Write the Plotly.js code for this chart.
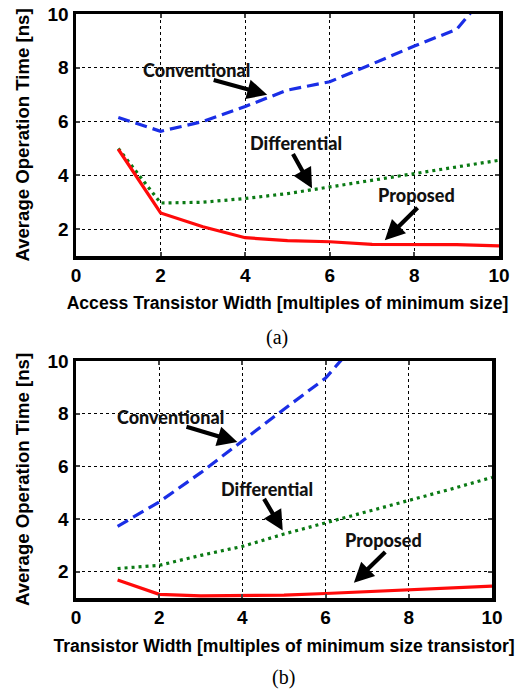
<!DOCTYPE html>
<html><head><meta charset="utf-8">
<script src="https://cdn.plot.ly/plotly-3.0.1.min.js"></script>
<style>html,body{margin:0;padding:0;background:#fff}#c{width:518px;height:691px}</style>
</head><body><div id="c"></div>
<script>
// ---- Data ----
const widthA = [1,2,3,4,5,6,7,8,9,10];
const conventionalA = [6.15,5.64,6.0,6.56,7.17,7.48,8.14,8.81,9.43,11.3];
const differentialA = [5.0,2.97,3.0,3.14,3.32,3.57,3.81,4.06,4.31,4.56];
const proposedA = [4.97,2.6,2.09,1.68,1.57,1.53,1.43,1.43,1.42,1.38];

const widthB = [1,2,3,4,5,6,7,8,9,10];
const conventionalB = [3.72,4.65,5.76,6.97,8.17,9.35,11.1,12.9,14.8,16.8];
const differentialB = [2.12,2.24,2.62,2.96,3.43,3.85,4.28,4.69,5.13,5.58];
const proposedB = [1.68,1.14,1.08,1.08,1.11,1.17,1.24,1.3,1.38,1.45];

const yTicks = [2,4,6,8,10];
const xTicks = [0,2,4,6,8,10];
const labelNames = ["Conventional","Differential","Proposed"];
const xTitleA = "Access Transistor Width [multiples of minimum size]";
const xTitleB = "Transistor Width [multiples of minimum size transistor]";
const yTitle = "Average Operation Time [ns]";

// ---- Styles ----
const W = 518, H = 691;
const boldFont = {family:"Liberation Sans, Arial, sans-serif", size:19, color:"#000", weight:"bold"};
const xTitleFont = {family:"Liberation Sans, Arial, sans-serif", size:17.6, color:"#000", weight:"bold"};
const yTitleFont = {family:"Liberation Sans, Arial, sans-serif", size:18.6, color:"#000", weight:"bold"};
const annFont = {family:"Lato, sans-serif", size:18, color:"#111", weight:900};
const blue = "#1a2ee6", green = "#0a7a14", red = "#ff0a0a";

function tr(x,y,color,dash,axes){
  return {x:x,y:y,type:"scatter",mode:"lines",xaxis:axes[0],yaxis:axes[1],
    line:{color:color,width:3.2,dash:dash},showlegend:false,hoverinfo:"skip"};
}
const traces = [
  tr(widthA,conventionalA,blue,"12px,6px",["x","y"]),
  tr(widthA,differentialA,green,"3px,4px",["x","y"]),
  tr(widthA,proposedA,red,"solid",["x","y"]),
  tr(widthB,conventionalB,blue,"12px,6px",["x2","y2"]),
  tr(widthB,differentialB,green,"3px,4px",["x2","y2"]),
  tr(widthB,proposedB,red,"solid",["x2","y2"])
];

function xax(domain,title,standoff,anchor){
  return {domain:domain,anchor:anchor,range:[0,10],tickvals:xTicks,ticks:"inside",ticklen:4,tickwidth:2,
    showline:true,linewidth:3.5,linecolor:"#000",mirror:"ticks",zeroline:false,
    showgrid:true,gridcolor:"#000",gridwidth:1,griddash:"dot",tickfont:boldFont,
    title:{text:title,font:xTitleFont,standoff:standoff},fixedrange:true};
}
function yax(domain,anchor){
  return {domain:domain,anchor:anchor,range:[1,10],tickvals:yTicks,ticks:"inside",ticklen:4,tickwidth:2,
    showline:true,linewidth:3.5,linecolor:"#000",mirror:"ticks",zeroline:false,
    showgrid:true,gridcolor:"#000",gridwidth:1,griddash:"dot",tickfont:boldFont,
    title:{text:yTitle,font:yTitleFont,standoff:14},fixedrange:true};
}

function txt(xr,yr,x,y,t){
  return {xref:xr,yref:yr,x:x,y:y,text:t,showarrow:false,font:annFont,xanchor:"center",yanchor:"middle"};
}
function arr(xr,yr,tail,tip){
  return {xref:xr,yref:yr,axref:xr,ayref:yr,x:tip[0],y:tip[1],ax:tail[0],ay:tail[1],text:"",
    showarrow:true,arrowhead:2,arrowsize:0.95,arrowwidth:4.2,arrowcolor:"#000"};
}

const annotations = [
  txt("x","y",2.86,7.93,labelNames[0]), arr("x","y",[3.22,7.56],[4.52,7.0]),
  txt("x","y",5.2,5.19,labelNames[1]), arr("x","y",[5.11,4.85],[5.58,3.52]),
  txt("x","y",8.04,3.26,labelNames[2]), arr("x","y",[8.11,2.85],[7.3,1.59]),
  txt("x2","y2",2.26,7.87,labelNames[0]), arr("x2","y2",[2.62,7.52],[3.88,6.92]),
  txt("x2","y2",4.58,5.13,labelNames[1]), arr("x2","y2",[4.5,4.82],[4.97,3.56]),
  txt("x2","y2",7.39,3.22,labelNames[2]), arr("x2","y2",[7.47,2.8],[6.68,1.58]),
  {xref:"paper",yref:"paper",x:277/W,y:1-337/H,text:"(a)",showarrow:false,
    font:{family:"Liberation Serif, Times New Roman, serif",size:20,color:"#000"},xanchor:"center",yanchor:"middle"},
  {xref:"paper",yref:"paper",x:283/W,y:1-677/H,text:"(b)",showarrow:false,
    font:{family:"Liberation Serif, Times New Roman, serif",size:20,color:"#000"},xanchor:"center",yanchor:"middle"}
];

const layout = {
  width:W,height:H,margin:{l:0,r:0,t:0,b:0},paper_bgcolor:"#fff",plot_bgcolor:"#fff",
  xaxis: xax([76/W,499/W],xTitleA,12,"y"),
  yaxis: yax([1-256/H,1-14/H],"x"),
  xaxis2: xax([76/W,492/W],xTitleB,13,"y2"),
  yaxis2: yax([1-598/H,1-361/H],"x2"),
  annotations:annotations
};
Plotly.newPlot("c",traces,layout,{staticPlot:true,displayModeBar:false});
</script></body></html>
